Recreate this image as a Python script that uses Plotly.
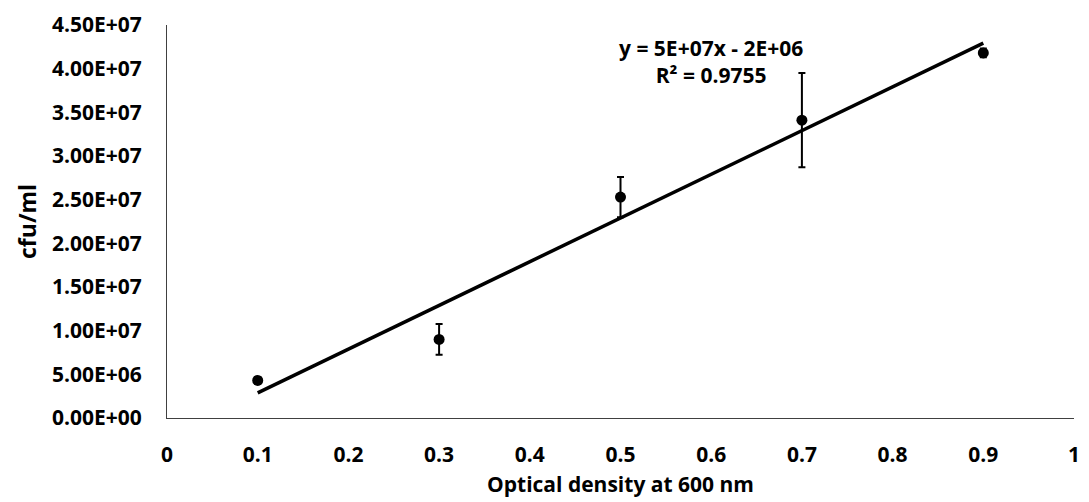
import numpy as np
import plotly.graph_objects as go

# Data
od = [0.1, 0.3, 0.5, 0.7, 0.9]
cfu = [4.3e6, 9.0e6, 2.53e7, 3.41e7, 4.18e7]
cfu_err = [4.0e5, 1.75e6, 2.3e6, 5.4e6, 5.0e5]

x_ticks = [0, 0.1, 0.2, 0.3, 0.4, 0.5, 0.6, 0.7, 0.8, 0.9, 1]
x_tick_labels = ["0", "0.1", "0.2", "0.3", "0.4", "0.5", "0.6", "0.7", "0.8", "0.9", "1"]
y_ticks = [0, 5e6, 1e7, 1.5e7, 2e7, 2.5e7, 3e7, 3.5e7, 4e7, 4.5e7]
y_tick_labels = ["0.00E+00", "5.00E+06", "1.00E+07", "1.50E+07", "2.00E+07",
                 "2.50E+07", "3.00E+07", "3.50E+07", "4.00E+07", "4.50E+07"]

equation_text = "y = 5E+07x - 2E+06<br>R² = 0.9755"

# Linear trendline fitted from the data
slope, intercept = np.polyfit(od, cfu, 1)
trend_x = [od[0], od[-1]]
trend_y = [slope * v + intercept for v in trend_x]

FONT = "Open Sans"
SIZE = 21

fig = go.Figure()
fig.add_trace(go.Scatter(
    x=trend_x, y=trend_y, mode="lines",
    line=dict(color="black", width=3.5),
    showlegend=False, hoverinfo="skip",
))
fig.add_trace(go.Scatter(
    x=od, y=cfu, mode="markers",
    marker=dict(color="black", size=11),
    error_y=dict(type="data", array=cfu_err, color="black", thickness=2, width=3.5),
    showlegend=False,
))

fig.add_annotation(
    x=0.6, y=4.08e7, xref="x", yref="y",
    text=equation_text, showarrow=False,
    font=dict(family=FONT, size=SIZE, color="black", weight="bold"),
    align="center",
)

fig.update_layout(
    width=1089, height=502,
    margin=dict(l=167, r=9, t=25, b=82),
    paper_bgcolor="white", plot_bgcolor="white",
    font=dict(family=FONT, size=SIZE, color="black", weight="bold"),
)
fig.update_xaxes(
    range=[0, 1], tickvals=x_ticks, ticktext=x_tick_labels,
    showgrid=False, zeroline=False, showline=True, linecolor="#404040", linewidth=1,
    ticks="", ticklabelstandoff=18,
    tickfont=dict(family=FONT, size=SIZE, color="black", weight="bold"),
    title=dict(text="Optical density at 600 nm", standoff=10,
               font=dict(family=FONT, size=SIZE, color="black", weight="bold")),
)
fig.update_yaxes(
    range=[0, 4.5e7], tickvals=y_ticks, ticktext=y_tick_labels,
    showgrid=False, zeroline=False, showline=True, linecolor="#404040", linewidth=1,
    ticks="", ticklabelstandoff=20,
    tickfont=dict(family=FONT, size=SIZE, color="black", weight="bold"),
    title=dict(text="cfu/ml", standoff=8,
               font=dict(family=FONT, size=SIZE + 2, color="black", weight="bold")),
)

fig.write_html("out.html")
